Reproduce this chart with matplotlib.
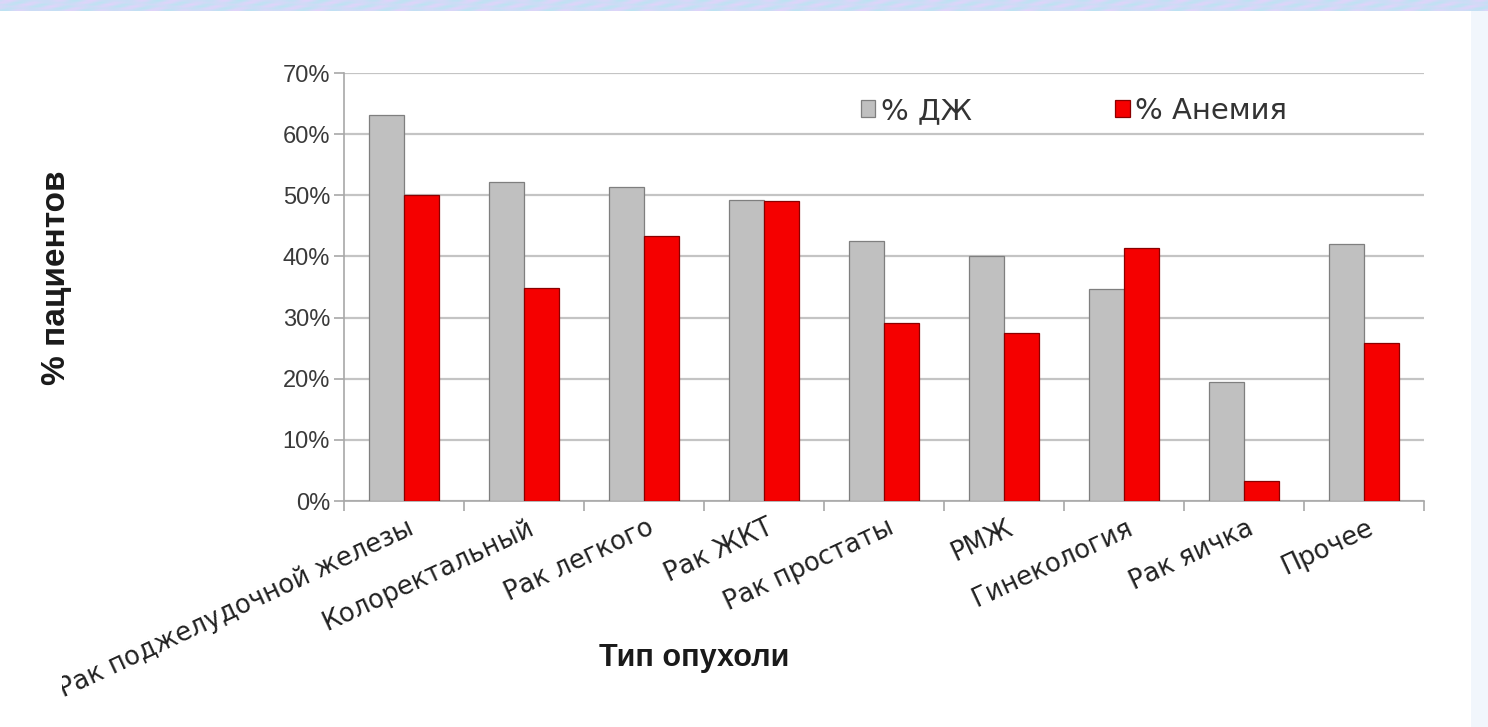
import numpy as np
import matplotlib
matplotlib.use("Agg")
import matplotlib.pyplot as plt
from matplotlib.ticker import FuncFormatter
from matplotlib.transforms import Bbox

# Tumour types and share of patients (%)
categories = [
    "Рак поджелудочной железы", "Колоректальный", "Рак легкого", "Рак ЖКТ",
    "Рак простаты", "РМЖ", "Гинекология", "Рак яичка", "Прочее",
]
iron_deficiency = [63.2, 52.1, 51.3, 49.2, 42.6, 40.0, 34.6, 19.4, 42.0]
anemia = [50.0, 34.9, 43.4, 49.0, 29.1, 27.5, 41.3, 3.2, 25.9]
series_labels = ["% ДЖ", "% Анемия"]
y_ticks = [0, 10, 20, 30, 40, 50, 60, 70]

W, H = 1488, 727
fig = plt.figure(figsize=(W / 100, H / 100), dpi=100)
fig.patch.set_facecolor("white")

# decorative banner along the top edge
band = fig.add_axes([0, 1 - 11 / H, 1, 11 / H])
xx = np.linspace(0, 90 * np.pi, 900)
yy = np.linspace(0, np.pi, 6)[:, None]
tone = 0.5 + 0.5 * np.sin(xx + 2.3 * yy) * np.cos(xx * 0.21 - yy)
rgb = np.zeros((6, 900, 3))
rgb[..., 0] = 0.74 + 0.14 * tone
rgb[..., 1] = 0.83 + 0.06 * (1 - tone)
rgb[..., 2] = 0.95 + 0.03 * tone
band.imshow(rgb, aspect="auto", interpolation="bilinear")
band.axis("off")

# pale strip at the right edge
strip = fig.add_axes([1 - 17 / W, 0, 17 / W, 1 - 11 / H])
strip.set_facecolor("#f1f6fc")
strip.set_xticks([])
strip.set_yticks([])
for s in strip.spines.values():
    s.set_visible(False)

ax = fig.add_axes([344 / W, (H - 501) / H, 1080 / W, 428 / H])

x = np.arange(len(categories))
bw = 0.29
ax.bar(x - bw / 2, iron_deficiency, bw, color="#c0c0c0", edgecolor="#7f7f7f",
       linewidth=0.9, label=series_labels[0], zorder=3)
ax.bar(x + bw / 2, anemia, bw, color="#f50000", edgecolor="#8a0000",
       linewidth=0.9, label=series_labels[1], zorder=3)

ax.set_xlim(-0.5, len(categories) - 0.5)
ax.set_ylim(0, 70)
ax.set_yticks(y_ticks)
ax.yaxis.set_major_formatter(FuncFormatter(lambda v, p: f"{v:.0f}%"))
ax.grid(axis="y", color="#c4c4c4", linewidth=1.6, zorder=0)

for side in ("top", "right"):
    ax.spines[side].set_visible(False)
for side in ("left", "bottom"):
    ax.spines[side].set_color("#a8a8a8")
    ax.spines[side].set_linewidth(1.2)

ax.tick_params(axis="y", length=7, width=1.2, color="#a8a8a8", pad=3,
               labelsize=17, labelcolor="#3a3a3a")
for t in ax.get_yticklabels():
    t.set_fontfamily("Liberation Sans")

# the chart frame cuts off whatever runs past its left edge
frame_clip = Bbox([[62, 0], [W, H]])

# category boundaries as ticks, names as rotated text under each group
ax.set_xticks(np.arange(len(categories) + 1) - 0.5)
ax.set_xticklabels([])
ax.tick_params(axis="x", length=7, width=1.2, color="#a8a8a8")
for xi, name in zip(x, categories):
    lbl = ax.annotate(name, xy=(xi, 0), xycoords=("data", "axes fraction"),
                      xytext=(2, -10), textcoords="offset points",
                      ha="right", va="top", rotation=25,
                      rotation_mode="anchor", fontsize=18.5, color="#222222",
                      fontfamily="DejaVu Sans", annotation_clip=False)
    lbl.set_clip_box(frame_clip)
    lbl.set_clip_on(True)

leg = ax.legend(loc="upper center", bbox_to_anchor=(0.676, 1.005), ncol=2,
                frameon=False, handlelength=0.5, handleheight=0.5,
                handletextpad=0.2, columnspacing=4.9,
                prop={"family": "DejaVu Sans", "size": 21})
for t in leg.get_texts():
    t.set_color("#333333")

fig.text(57 / W, 1 - 278 / H, "% пациентов", rotation=90, ha="center",
         va="center", fontsize=24, fontweight="bold",
         fontfamily="Liberation Sans", color="#1a1a1a")
fig.text(694 / W, 1 - 658 / H, "Тип опухоли", ha="center", va="center",
         fontsize=22, fontweight="bold", fontfamily="Liberation Sans",
         color="#1a1a1a")

fig.savefig("out.png", dpi=100, facecolor="white")
